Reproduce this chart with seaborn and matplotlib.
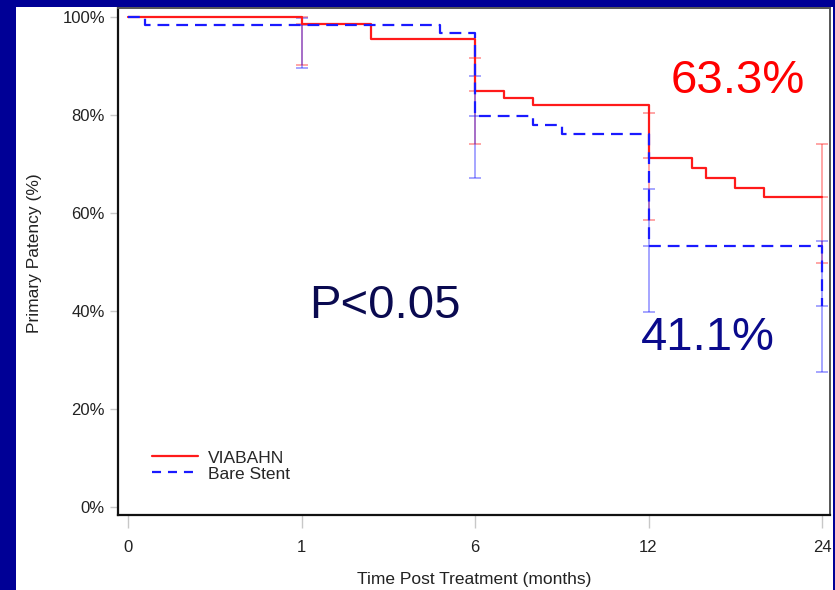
import numpy as np
import pandas as pd
import matplotlib
matplotlib.use("Agg")
import matplotlib.pyplot as plt
import seaborn as sns
from matplotlib.patches import Rectangle
from matplotlib.lines import Line2D

# ---------------- data ----------------
month_ticks = [0, 1, 6, 12, 24]
tick_labels = ["0", "1", "6", "12", "24"]
y_ticks = [0, 20, 40, 60, 80, 100]
y_tick_labels = ["0%", "20%", "40%", "60%", "80%", "100%"]

viabahn_months = [0, 1, 3, 6, 7, 8, 12, 15, 16, 18, 20, 24]
viabahn_patency = [100, 98.5, 95.5, 85.0, 83.5, 82.0, 71.2, 69.2, 67.2, 65.2, 63.3, 63.3]

bare_months = [0, 0.1, 5, 6, 8, 9, 12, 24]
bare_patency = [100, 98.4, 96.7, 79.7, 78.0, 76.2, 53.2, 41.1]

ci_months = [1, 6, 12, 24]
viabahn_est = [98.5, 85.0, 71.2, 63.3]
viabahn_low = [90.2, 74.1, 58.6, 49.9]
viabahn_high = [100.0, 91.7, 80.5, 74.0]
bare_est = [98.4, 79.7, 53.2, 41.1]
bare_low = [89.5, 67.1, 39.7, 27.6]
bare_high = [99.7, 88.0, 65.0, 54.3]

series_names = ["VIABAHN", "Bare Stent"]

# ---------------- style ----------------
sns.set_style("ticks")
plt.rcParams["font.family"] = ["Liberation Sans", "DejaVu Sans"]
plt.rcParams["lines.scale_dashes"] = False

RED = "#ff1a1a"
BLUE = "#1a1aff"
DASH = (0, (8.5, 5.0))

fig = plt.figure(figsize=(8.35, 5.9), dpi=100)
fig.patch.set_facecolor("#000096")
fig.add_artist(Rectangle((16 / 835, 0), (833 - 16) / 835, (590 - 7) / 590,
                         transform=fig.transFigure, facecolor="white",
                         edgecolor="none", zorder=-1))
ax = fig.add_axes([118 / 835, 1 - 515 / 590, (830 - 118) / 835, (515 - 8) / 590])
ax.set_facecolor("white")

# piecewise-linear x scale: ticks equally spaced
K = np.array(month_ticks, float)
P = np.arange(len(K), dtype=float)
s0 = (P[1] - P[0]) / (K[1] - K[0])
s1 = (P[-1] - P[-2]) / (K[-1] - K[-2])


def fwd(x):
    x = np.asarray(x, float)
    return (np.interp(x, K, P)
            + np.where(x < K[0], (x - K[0]) * s0, 0.0)
            + np.where(x > K[-1], (x - K[-1]) * s1, 0.0))


def inv(p):
    p = np.asarray(p, float)
    return (np.interp(p, P, K)
            + np.where(p < P[0], (p - P[0]) / s0, 0.0)
            + np.where(p > P[-1], (p - P[-1]) / s1, 0.0))


ax.set_xscale("function", functions=(fwd, inv))

df_v = pd.DataFrame({"month": viabahn_months, "patency": viabahn_patency})
df_b = pd.DataFrame({"month": bare_months, "patency": bare_patency})

# error bars (confidence intervals)
for est, lo, hi, col in [(viabahn_est, viabahn_low, viabahn_high, RED),
                         (bare_est, bare_low, bare_high, BLUE)]:
    est = np.array(est); lo = np.array(lo); hi = np.array(hi)
    ax.errorbar(ci_months, est, yerr=[est - lo, hi - est], fmt="_",
                color=col, alpha=0.5, capsize=4.2, markersize=8.5,
                elinewidth=1.1, capthick=1.1, markeredgewidth=1.1, zorder=2)

sns.lineplot(data=df_v, x="month", y="patency", ax=ax, color=RED,
             drawstyle="steps-post", linewidth=1.6, errorbar=None,
             sort=False, zorder=3)
sns.lineplot(data=df_b, x="month", y="patency", ax=ax, color=BLUE,
             drawstyle="steps-post", linewidth=1.6, errorbar=None,
             sort=False, linestyle=DASH, zorder=4)

ax.set_xlim(inv(-0.0576), inv(4.046))
ax.set_ylim(-1.63, 101.84)
ax.set_xticks(month_ticks)
ax.set_xticklabels(tick_labels)
ax.minorticks_off()
ax.set_yticks(y_ticks)
ax.set_yticklabels(y_tick_labels)

ax.tick_params(axis="x", direction="out", length=9.5, width=1.0,
               color="#c8c8c8", pad=8.5, labelsize=12, labelcolor="#222222")
ax.tick_params(axis="y", direction="out", length=5.8, width=1.0,
               color="#c8c8c8", pad=3.6, labelsize=12, labelcolor="#222222")

for side in ["left", "bottom"]:
    ax.spines[side].set_color("#111111")
    ax.spines[side].set_linewidth(1.6)
for side in ["top", "right"]:
    ax.spines[side].set_color("#555555")
    ax.spines[side].set_linewidth(1.4)

ax.set_xlabel("Time Post Treatment (months)", fontsize=12.5, color="#222222")
ax.set_ylabel("Primary Patency (%)", fontsize=12.5, color="#222222")
ax.xaxis.set_label_coords(0.5007, -0.112)
ax.yaxis.set_label_coords(-0.107, 0.517)

# legend
handles = [Line2D([], [], color=RED, linewidth=1.6),
           Line2D([], [], color=BLUE, linewidth=1.6, linestyle=(0, (6.5, 5.0)))]
ax.legend(handles, series_names, loc="lower left",
          bbox_to_anchor=(0.048, 0.066), frameon=False, fontsize=12.5,
          handlelength=2.65, handletextpad=0.55, labelspacing=0.05,
          borderpad=0, borderaxespad=0)

# annotations
ax.text(0.870, 0.832, "63.3%", transform=ax.transAxes, color="#ff0000",
        fontsize=34, ha="center", va="baseline")
ax.text(0.375, 0.389, "P<0.05", transform=ax.transAxes, color="#0a0a50",
        fontsize=34, ha="center", va="baseline")
ax.text(0.829, 0.325, "41.1%", transform=ax.transAxes, color="#0a0a8c",
        fontsize=34, ha="center", va="baseline")

fig.savefig("out.png", dpi=100, facecolor=fig.get_facecolor())
